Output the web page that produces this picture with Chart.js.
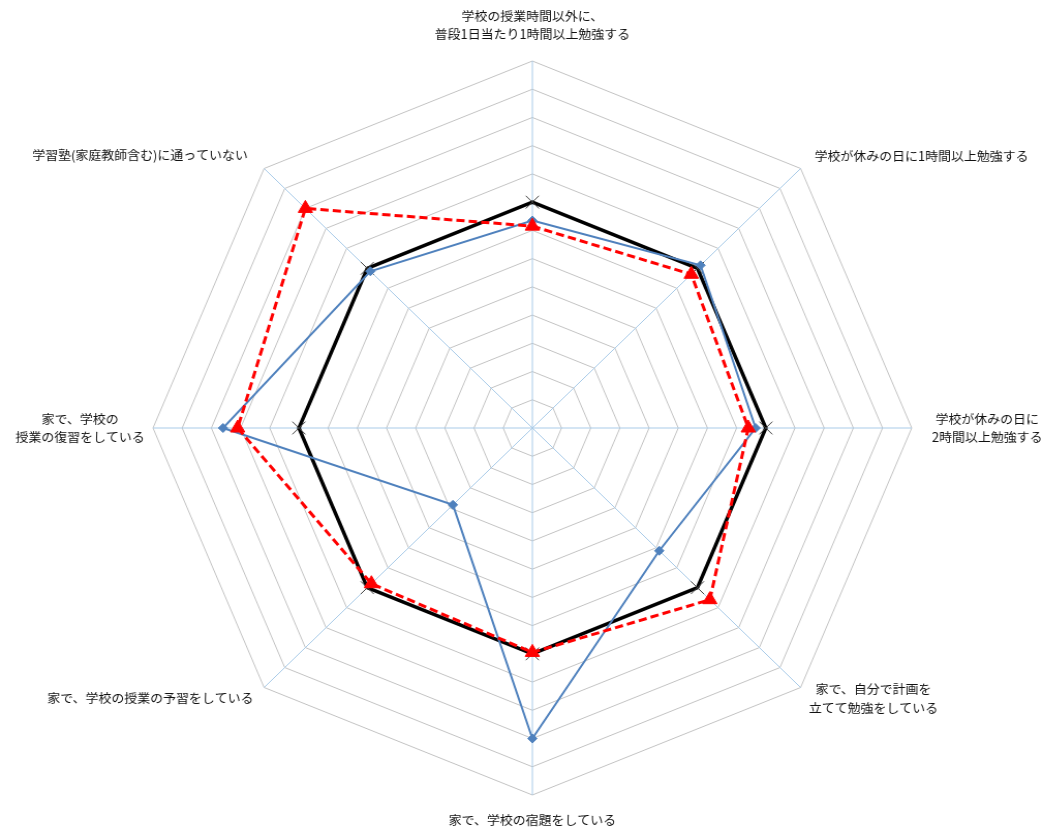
<!DOCTYPE html>
<html lang="ja">
<head>
<meta charset="utf-8">
<title>学習状況レーダーチャート</title>
<script src="https://cdn.jsdelivr.net/npm/chart.js@4.4.1/dist/chart.umd.min.js"></script>
<style>
  html, body { margin: 0; padding: 0; background: #fff; overflow: hidden; }
  /* the polygon is a little wider than tall, so stretch the canvas sideways */
  #wrap { width: 1009px; height: 827px; transform: scaleX(1.0337); transform-origin: 0 0; }
</style>
</head>
<body>
<div id="wrap"><canvas id="radar" width="1009" height="827"></canvas></div>
<script>
// axis labels, clockwise from the top
const categories = [
  ['学校の授業時間以外に、', '普段1日当たり1時間以上勉強する'],
  ['学校が休みの日に1時間以上勉強する'],
  ['学校が休みの日に', '2時間以上勉強する'],
  ['家で、自分で計画を', '立てて勉強をしている'],
  ['家で、学校の宿題をしている'],
  ['家で、学校の授業の予習をしている'],
  ['家で、学校の', '授業の復習をしている'],
  ['学習塾(家庭教師含む)に通っていない']
];

const baseValues = [100, 100, 100, 100, 100, 100, 100, 100];
const blueValues = [93.5, 101.5, 96.5, 81.5, 130, 58.5, 126, 98.5];
const redValues  = [91.5, 97, 94, 106, 99.5, 98, 121, 130];

const scaleMin = 20;
const scaleMax = 150;
const scaleStep = 10;

// label centre offsets from each outer vertex
const labelOffsets = [[0, -36], [117, -12.5], [73, 0], [70.5, 11], [0, 25], [-110, 10.5], [-70.5, 0], [-120, -13.5]];
const lineGap = 18.5;

const axisLabels = {
  id: 'axisLabels',
  afterDraw(chart) {
    const scale = chart.scales.r;
    const ctx = chart.ctx;
    ctx.save();
    ctx.font = '12.5px "Noto Sans CJK JP"';
    ctx.fillStyle = '#111';
    ctx.textAlign = 'center';
    ctx.textBaseline = 'middle';
    categories.forEach((lines, i) => {
      const p = scale.getPointPosition(i, scale.drawingArea);
      const x = p.x + labelOffsets[i][0];
      const y = p.y + labelOffsets[i][1];
      lines.forEach((line, j) => {
        ctx.fillText(line, x, y + (j - (lines.length - 1) / 2) * lineGap);
      });
    });
    ctx.restore();
  }
};

new Chart(document.getElementById('radar'), {
  type: 'radar',
  data: {
    labels: categories,
    datasets: [
      {
        label: '基準',
        data: baseValues,
        borderColor: '#000',
        borderWidth: 3.5,
        pointStyle: 'crossRot',
        pointRadius: 9,
        pointBorderColor: '#404040',
        pointBorderWidth: 1,
        fill: false,
        order: 3
      },
      {
        label: 'A',
        data: blueValues,
        borderColor: '#4f81bd',
        borderWidth: 2,
        pointStyle: 'rectRot',
        pointRadius: 4.5,
        pointBackgroundColor: '#4f81bd',
        pointBorderColor: '#4f81bd',
        pointBorderWidth: 1,
        fill: false,
        order: 2
      },
      {
        label: 'B',
        data: redValues,
        borderColor: '#ff0000',
        borderWidth: 3,
        borderDash: [8, 4],
        pointStyle: 'triangle',
        pointRadius: 8,
        pointBackgroundColor: '#ff0000',
        pointBorderColor: '#ff0000',
        pointBorderWidth: 1,
        fill: false,
        order: 1
      }
    ]
  },
  options: {
    responsive: false,
    devicePixelRatio: 1,
    animation: false,
    events: [],
    layout: { padding: { left: 148, right: 126, top: 61, bottom: 31 } },
    elements: { line: { tension: 0 } },
    plugins: { legend: { display: false }, tooltip: { enabled: false } },
    scales: {
      r: {
        min: scaleMin,
        max: scaleMax,
        ticks: { display: false, stepSize: scaleStep },
        grid: { color: '#c3c3c3', lineWidth: 1 },
        angleLines: { color: '#a9cbe8', lineWidth: 1 },
        pointLabels: { display: false }
      }
    }
  },
  plugins: [axisLabels]
});
</script>
</body>
</html>
